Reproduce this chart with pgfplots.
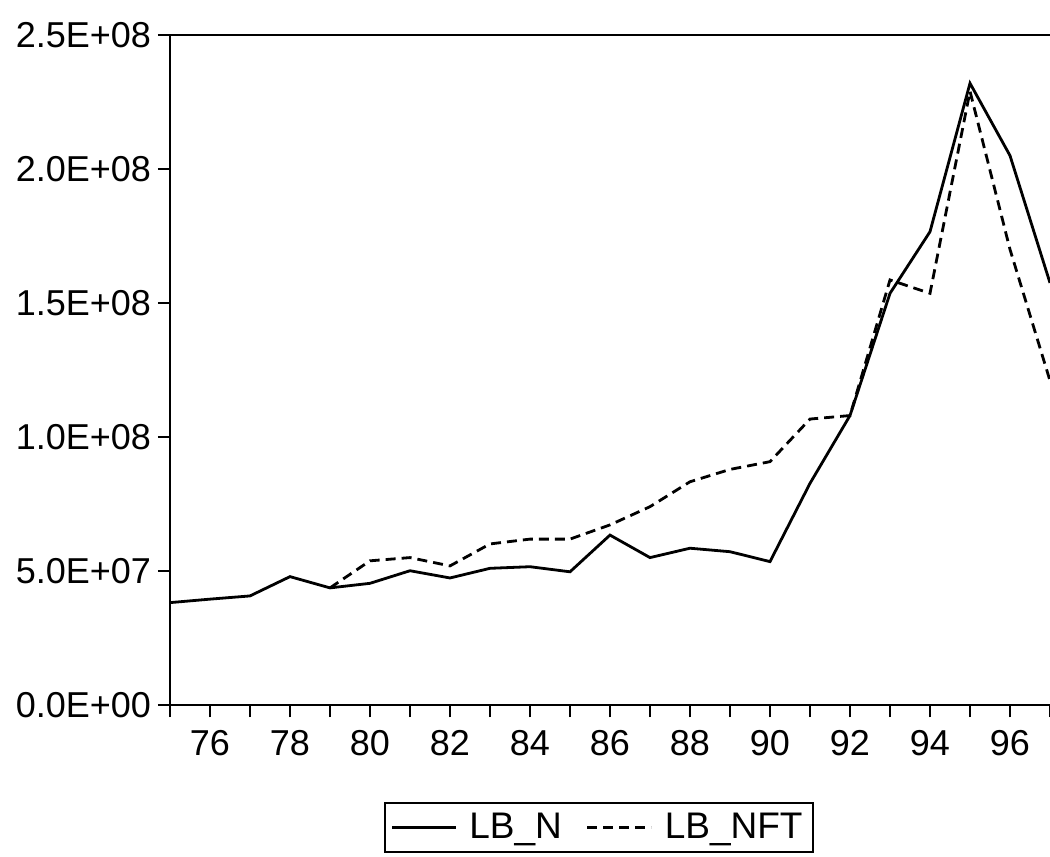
\documentclass[border=0pt]{standalone}
\usepackage{pgfplots}
\pgfplotsset{compat=1.18}
\usepackage{fontspec}
\setmainfont{Liberation Sans}

\pgfplotstableread{
year  lbn
75  3.82e7
76  3.95e7
77  4.07e7
78  4.79e7
79  4.37e7
80  4.54e7
81  5.01e7
82  4.74e7
83  5.10e7
84  5.16e7
85  4.97e7
86  6.34e7
87  5.50e7
88  5.85e7
89  5.72e7
90  5.35e7
91  8.27e7
92  1.08e8
93  1.536e8
94  1.766e8
95  2.32e8
96  2.05e8
97  1.575e8
}\lbn

\pgfplotstableread{
year  lbnft
79  4.37e7
80  5.38e7
81  5.50e7
82  5.19e7
83  6.01e7
84  6.19e7
85  6.19e7
86  6.72e7
87  7.40e7
88  8.33e7
89  8.79e7
90  9.08e7
91  1.067e8
92  1.08e8
93  1.586e8
94  1.536e8
95  2.29e8
96  1.70e8
97  1.21e8
}\lbnft

\begin{document}
\begin{tikzpicture}
\begin{axis}[
  scale only axis, width=440pt, height=335pt,
  xmin=75, xmax=97, ymin=0, ymax=2.5e8,
  axis line style={draw=none},
  clip mode=individual,
  tick align=outside, xtick pos=bottom, ytick pos=left,
  major tick length=6pt, minor tick length=6pt,
  tick style={black, line width=1pt},
  xtick={76,78,...,96}, minor xtick={75,...,97},
  xticklabels={76,78,80,82,84,86,88,90,92,94,96},
  ytick={0,5e7,1e8,1.5e8,2e8,2.5e8},
  yticklabels={0.0E+00,5.0E+07,1.0E+08,1.5E+08,2.0E+08,2.5E+08},
  scaled y ticks=false,
  ticklabel style={font=\fontsize{18}{20}\selectfont},
  xticklabel style={yshift=-3pt},
  legend style={at={(0.487,-0.145)}, anchor=north, legend columns=-1,
    draw=black, line width=1pt, font=\fontsize{18.5}{20}\selectfont,
    inner sep=3pt,
    /tikz/every even column/.append style={column sep=10pt}},
  legend image code/.code={\draw[#1] (0pt,0pt) -- (32pt,0pt); \path (36pt,0pt);},
]
\addplot[black, line width=1.4pt] table[x=year, y=lbn] {\lbn};
\addlegendentry{LB\_N}
\addplot[black, line width=1.4pt, dash pattern=on 5pt off 3pt] table[x=year, y=lbnft] {\lbnft};
\addlegendentry{LB\_NFT}
\draw[line width=1.2pt] (rel axis cs:1,1) -- (rel axis cs:0,1) -- (rel axis cs:0,0) -- (rel axis cs:1,0);
\coordinate (O) at (rel axis cs:0,0);
\coordinate (TR) at (rel axis cs:1,1);
\end{axis}
\pgfresetboundingbox
\path ([xshift=-85pt,yshift=-76pt]O) rectangle ([yshift=17.5pt]TR);
\end{tikzpicture}
\end{document}
